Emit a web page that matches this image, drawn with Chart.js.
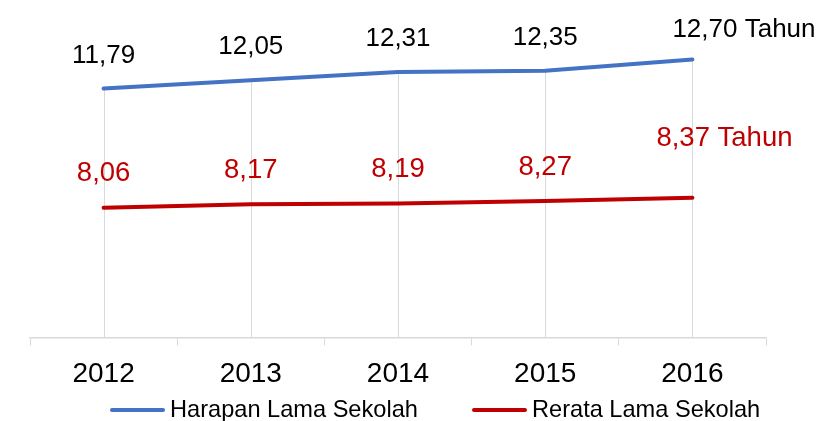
<!DOCTYPE html>
<html>
<head>
<meta charset="utf-8">
<script src="https://cdn.jsdelivr.net/npm/chart.js@4"></script>
<style>
  html, body { margin: 0; padding: 0; background: #fff; }
  #wrap { position: relative; width: 822px; height: 421px; }
  .legend-item { position: absolute; display: flex; align-items: center; font-family: "Liberation Sans", Arial, sans-serif; font-size: 23.6px; color: #000; white-space: nowrap; }
  .legend-line { width: 55px; height: 4px; border-radius: 2px; margin-right: 5px; }
</style>
</head>
<body>
<div id="wrap">
  <canvas id="chart" width="822" height="421"></canvas>
  <div class="legend-item" style="left:110px; top:396px;"><span class="legend-line" style="background:#4472c4"></span>Harapan Lama Sekolah</div>
  <div class="legend-item" style="left:472px; top:396px;"><span class="legend-line" style="background:#c00000"></span>Rerata Lama Sekolah</div>
</div>
<script>
// Chart data
const years = ['2012', '2013', '2014', '2015', '2016'];
const harapanLama = [11.79, 12.05, 12.31, 12.35, 12.70];
const rerataLama = [8.06, 8.17, 8.19, 8.27, 8.37];
const unitLabel = 'Tahun';

const blue = '#4472c4';
const red = '#c00000';

// vertical lines from the top series down to the axis
const dropLines = {
  id: 'dropLines',
  beforeDatasetsDraw(chart) {
    const ctx = chart.ctx;
    const meta = chart.getDatasetMeta(0);
    const bottom = chart.chartArea.bottom;
    ctx.save();
    ctx.strokeStyle = '#d9d9d9';
    ctx.lineWidth = 1;
    meta.data.forEach(pt => {
      const x = Math.round(pt.x) + 0.5;
      ctx.beginPath();
      ctx.moveTo(x, pt.y);
      ctx.lineTo(x, bottom);
      ctx.stroke();
    });
    ctx.restore();
  }
};

// value labels above each point, last one gets the unit
const valueLabels = {
  id: 'valueLabels',
  afterDatasetsDraw(chart) {
    const ctx = chart.ctx;
    ctx.save();
    ctx.textBaseline = 'middle';
    chart.data.datasets.forEach((ds, di) => {
      const meta = chart.getDatasetMeta(di);
      const opt = ds.labelOpts;
      ctx.fillStyle = opt.color;
      ctx.font = opt.size + 'px "Liberation Sans", Arial, sans-serif';
      meta.data.forEach((pt, i) => {
        let text = ds.data[i].toFixed(2).replace('.', ',');
        const last = i === ds.data.length - 1;
        if (last) {
          text += ' ' + unitLabel;
          ctx.textAlign = 'left';
          ctx.fillText(text, pt.x + opt.lastDx, pt.y + opt.lastDy);
        } else {
          ctx.textAlign = 'center';
          ctx.fillText(text, pt.x, pt.y + opt.dy);
        }
      });
    });
    ctx.restore();
  }
};

new Chart(document.getElementById('chart'), {
  type: 'line',
  data: {
    labels: years,
    datasets: [{
      label: 'Harapan Lama Sekolah',
      data: harapanLama,
      borderColor: blue,
      backgroundColor: blue,
      borderWidth: 4,
      pointRadius: 0,
      borderCapStyle: 'round',
      labelOpts: { color: '#000', size: 26, dy: -33, lastDx: -20, lastDy: -30 }
    }, {
      label: 'Rerata Lama Sekolah',
      data: rerataLama,
      borderColor: red,
      backgroundColor: red,
      borderWidth: 4,
      pointRadius: 0,
      borderCapStyle: 'round',
      labelOpts: { color: red, size: 27.5, dy: -34, lastDx: -36, lastDy: -59 }
    }]
  },
  options: {
    responsive: false,
    animation: false,
    layout: { padding: { left: 30, right: 56, top: 18, bottom: 18 } },
    plugins: {
      legend: { display: false },
      tooltip: { enabled: false }
    },
    scales: {
      x: {
        offset: true,
        grid: { offset: true, drawOnChartArea: false, drawTicks: true, tickLength: 8, color: '#d9d9d9' },
        border: { color: '#d9d9d9', width: 1.5 },
        ticks: { color: '#000', padding: 12, font: { family: '"Liberation Sans", Arial, sans-serif', size: 28 } }
      },
      y: {
        display: false,
        min: 4,
        max: 14
      }
    }
  },
  plugins: [dropLines, valueLabels]
});
</script>
</body>
</html>
